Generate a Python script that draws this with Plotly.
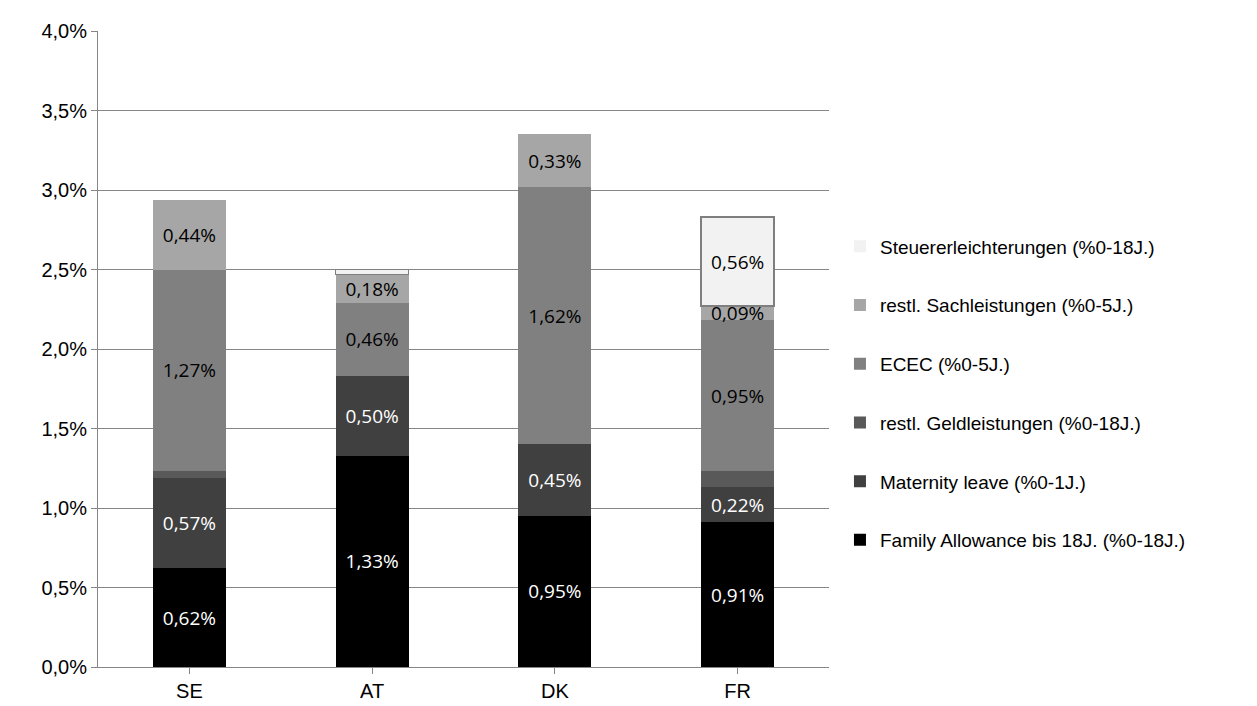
import plotly.graph_objects as go

countries = ["SE", "AT", "DK", "FR"]
family = [0.62, 1.33, 0.95, 0.91]
maternity = [0.57, 0.50, 0.45, 0.22]
geld = [0.04, 0.0, 0.0, 0.10]
ecec = [1.27, 0.46, 1.62, 0.95]
sach = [0.44, 0.18, 0.33, 0.09]
steuer = [0.0, 0.03, 0.0, 0.56]

series = [
    ("Family Allowance bis 18J. (%0-18J.)", family, "#000000", "white", True),
    ("Maternity leave (%0-1J.)", maternity, "#404040", "white", True),
    ("restl. Geldleistungen (%0-18J.)", geld, "#595959", "white", False),
    ("ECEC (%0-5J.)", ecec, "#808080", "black", True),
    ("restl. Sachleistungen (%0-5J.)", sach, "#a6a6a6", "black", True),
    ("Steuererleichterungen (%0-18J.)", steuer, "#f2f2f2", "black", True),
]

fig = go.Figure()
for i, (name, vals, col, tcol, show) in enumerate(series):
    txt = [("%.2f%%" % v).replace(".", ",") if show and v >= 0.05 else "" for v in vals]
    is_st = col == "#f2f2f2"
    fig.add_trace(go.Bar(
        x=countries, y=vals, name=name, marker_color=col, legendgroup=str(i),
        legendrank=100 - i,
        marker_line=dict(color="#7f7f7f" if is_st else col,
                         width=[1.5 if (is_st and v > 0) else 0 for v in vals]),
        text=txt, textposition="inside", insidetextanchor="middle",
        textfont=dict(color=tcol, size=19, family="Open Sans"), constraintext="none",
        hoverinfo="skip",
    ))

fig.update_layout(
    barmode="stack", bargap=0.6, separators=",.",
    width=1257, height=706, plot_bgcolor="white", paper_bgcolor="white",
    font=dict(family="Liberation Sans, Arial", size=20, color="black"),
    margin=dict(l=90, r=436, t=18, b=40),
    legend=dict(traceorder="grouped", x=1.015, y=0.43, yanchor="middle",
                font=dict(size=19), itemwidth=30, tracegroupgap=31),
    yaxis=dict(range=[0, 4], dtick=0.5, tickformat=".1f", ticksuffix="%",
               showgrid=True, gridcolor="#868686", gridwidth=1.2,
               showline=True, linecolor="#868686", ticks="outside", ticklen=6,
               tickcolor="#868686", zeroline=False),
    xaxis=dict(showline=True, linecolor="#868686", ticks="outside", tickcolor="#868686",
               ticklen=6),
)
fig.write_html("out.html")
